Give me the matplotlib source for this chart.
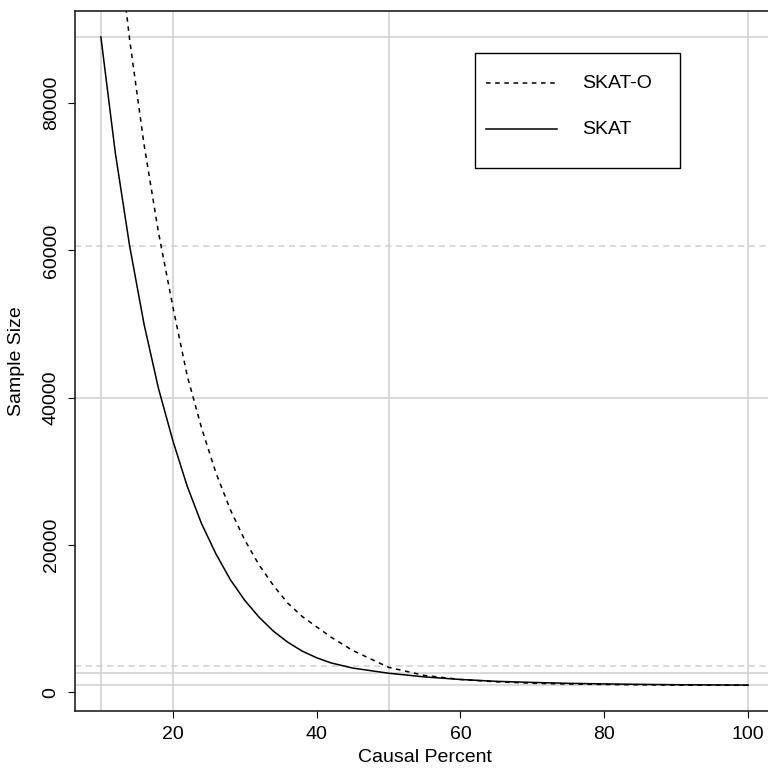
import matplotlib
matplotlib.use("Agg")
import matplotlib.pyplot as plt
from matplotlib.lines import Line2D
from matplotlib.patches import Rectangle

plt.rcParams['font.family'] = ['Liberation Sans', 'DejaVu Sans']

# Required sample size versus percentage of causal variants
causal_pct = [10, 12, 14, 16, 18, 20, 22, 24, 26, 28, 30, 32, 34, 36, 38, 40,
              42, 45, 50, 55, 60, 65, 70, 75, 80, 85, 90, 95, 100]
skat = [89000, 73300, 60600, 50000, 41300, 34200, 28000, 22900, 18800, 15300,
        12500, 10200, 8300, 6800, 5600, 4700, 4000, 3300, 2600, 2100, 1750,
        1500, 1350, 1230, 1150, 1090, 1040, 1010, 990]

causal_pct_o = [10, 12, 14, 16, 18, 20, 22, 24, 26, 28, 30, 32, 34, 36, 38,
                40, 42, 45, 50, 55, 60, 65, 70, 75, 80, 85, 90, 95, 100]
skat_o = [125500, 105400, 88600, 74400, 62500, 52400, 43000, 35900, 29800,
          24800, 20700, 17300, 14500, 12100, 10300, 8900, 7500, 5700, 3400,
          2300, 1750, 1430, 1240, 1130, 1070, 1020, 990, 970, 960]

# Reference lines
v_lines = [10, 20, 50, 100]
h_solid = [89000, 40000, 2620, 990]
h_dashed = [60640, 3610]

y_ticks = [0, 20000, 40000, 60000, 80000]
x_ticks = [20, 40, 60, 80, 100]

W, H = 768, 772
fig = plt.figure(figsize=(W / 100, H / 100), dpi=100)
ax_l, ax_r, ax_t, ax_b = 75, 774, 11, 711
ax = fig.add_axes([ax_l / W, (H - ax_b) / H, (ax_r - ax_l) / W, (ax_b - ax_t) / H])

grey = '#d0d0d0'
for v in v_lines:
    ax.axvline(v, color=grey, lw=1.1, zorder=1)
for h in h_solid:
    ax.axhline(h, color=grey, lw=1.1, zorder=1)
for h in h_dashed:
    ax.axhline(h, color=grey, lw=1.1, ls=(0, (4, 3)), zorder=1)

ax.plot(causal_pct, skat, color='black', lw=1.1, zorder=3)
ax.plot(causal_pct_o, skat_o, color='black', lw=1.1, ls=(0, (3, 3)), zorder=3)

# R-style 4% padding around the SKAT range
xr = max(causal_pct) - min(causal_pct)
ax.set_xlim(min(causal_pct) - 0.04 * xr, max(causal_pct) + 0.04 * xr)
yr = max(skat) - min(skat)
ax.set_ylim(min(skat) - 0.04 * yr, max(skat) + 0.04 * yr)

ax.set_xticks(x_ticks)
ax.set_xticklabels([str(t) for t in x_ticks])
ax.set_yticks(y_ticks)
ax.set_yticklabels([str(t) for t in y_ticks], rotation=90, va='center')
ax.tick_params(axis='both', direction='out', length=5, width=0.8,
               labelsize=14, color='black')
ax.tick_params(axis='x', pad=6)
ax.tick_params(axis='y', pad=6)
for sp in ax.spines.values():
    sp.set_linewidth(1.2)
    sp.set_color('#222222')

ax.set_xlabel('Causal Percent', fontsize=14)
ax.xaxis.label.set_va('center')
ax.xaxis.set_label_coords(0.5, -(757 - ax_b) / (ax_b - ax_t))
ax.set_ylabel('Sample Size', fontsize=14)
ax.yaxis.label.set_va('center')
ax.yaxis.set_label_coords(-(ax_l - 17) / (ax_r - ax_l), 0.5)

# Legend box drawn in figure pixel coordinates
def fx(px):
    return px / W

def fy(py):
    return (H - py) / H

fig.patches.append(Rectangle((fx(475), fy(168)), fx(680) - fx(475), fy(53) - fy(168),
                             transform=fig.transFigure, facecolor='white',
                             edgecolor='black', lw=1.0, zorder=5))
leg_items = [('SKAT-O', (0, (3, 3)), 83), ('SKAT', '-', 129)]
for label, ls, py in leg_items:
    fig.add_artist(Line2D([fx(486), fx(557)], [fy(py), fy(py)], color='black',
                          lw=1.1, ls=ls, transform=fig.transFigure, zorder=6))
    fig.text(fx(582), fy(py), label, fontsize=14, va='center', ha='left', zorder=6)

fig.savefig('out.png', dpi=100)
